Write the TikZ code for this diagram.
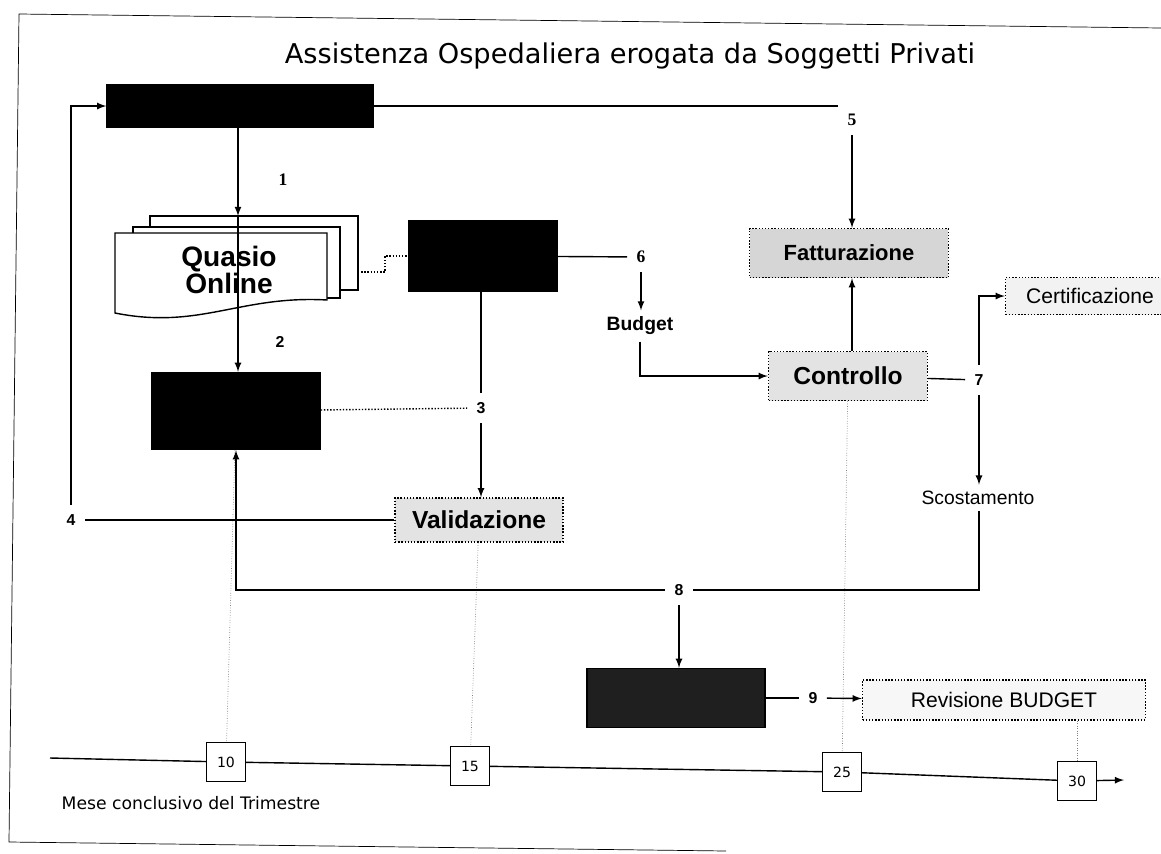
\documentclass[tikz,border=0pt]{standalone}
\usepackage{fontspec}
\setmainfont{Liberation Sans}
\newfontfamily\verdana{DejaVu Sans}
\newfontfamily\numserif{Liberation Serif}
\usepackage{xcolor}
\usepackage{tikz}
\usetikzlibrary{shapes,arrows,positioning,fit,calc}

\begin{document}
\begin{tikzpicture}[x=0.02cm, y=-0.02cm, >=latex, thick,
    blackbox/.style={rectangle, draw, fill=black},
    graybox/.style={rectangle, draw, densely dotted, fill=gray!22, font=\bfseries\fontsize{14}{16}\selectfont},
    lightbox/.style={rectangle, draw, densely dotted, fill=gray!10, font=\fontsize{12}{14}\selectfont},
    num/.style={font=\bfseries\fontsize{9}{10}\selectfont, inner sep=5pt},
    numserif/.style={font=\numserif\bfseries\fontsize{10}{11}\selectfont, inner sep=5pt},
    daybox/.style={rectangle, draw, thin, minimum size=0.78cm, font=\verdana\fontsize{8}{9}\selectfont},
    faint/.style={densely dotted, thin, gray}]
    \useasboundingbox (0,0) rectangle (1161,853);
    \draw [thin] (1161,28) -- (19,14) -- (9,842) -- (726,851);

    \node (title) at (630,56) {\verdana\fontsize{15.5}{18}\selectfont Assistenza Ospedaliera erogata da Soggetti Privati};

    % black boxes
    \node (boxA) [blackbox, minimum width=5.32cm, minimum height=0.84cm] at (240,106) {};
    \node (boxB) [blackbox, minimum width=2.96cm, minimum height=1.4cm] at (483,256) {};
    \node (boxC) [blackbox, minimum width=3.36cm, minimum height=1.54cm] at (236,411) {};
    \node (boxD) [blackbox, fill=black!88, minimum width=3.56cm, minimum height=1.18cm] at (676,698) {};

    % Quasio Online (document stack)
    \draw [fill=white] (150,216) -- (358,216) -- (358,290) -- (150,290) -- cycle;
    \draw [fill=white] (133,227) -- (340,227) -- (340,298) -- (133,298) -- cycle;
    \draw [fill=white] (115,233) -- (327,233) -- (327,300) .. controls (240,295) and (200,330) .. (115,313) -- cycle;
    \node (quasio) [align=center, font=\bfseries\fontsize{16}{15.5}\selectfont] at (229,270) {Quasio\\Online};
    \coordinate (qtop) at (238,216);
    \coordinate (qright) at (358,272);

    \node (fatt) [graybox, fill=gray!32, font=\bfseries\fontsize{12.5}{14}\selectfont, minimum width=3.98cm, minimum height=0.98cm] at (849,253) {Fatturazione};
    \node (contr) [graybox, minimum width=3.18cm, minimum height=0.98cm] at (848,376) {Controllo};
    \node (valid) [graybox, minimum width=3.36cm, minimum height=0.88cm] at (479,520) {Validazione};
    \node (cert) [lightbox, minimum width=3.38cm, minimum height=0.74cm] at (1090,296) {Certificazione};
    \node (rev) [lightbox, fill=gray!6, minimum width=5.66cm, minimum height=0.8cm] at (1004,700) {Revisione BUDGET};
    \node (budget) [font=\bfseries\fontsize{11}{12}\selectfont] at (640,326) {Budget};
    \node (scost) [font=\fontsize{11}{12}\selectfont] at (978,498) {Scostamento};

    % step numbers
    \node (n1) [numserif] at (283,180) {1};
    \node (n2) [num] at (280,342) {2};
    \node (n3) [num] at (481,408) {3};
    \node (n4) [num] at (71,520) {4};
    \node (n5) [numserif] at (852,120) {5};
    \node (n6) [numserif] at (641,257) {6};
    \node (n7) [num] at (979,380) {7};
    \node (n8) [num] at (679,590) {8};
    \node (n9) [num] at (813,698) {9};

    % timeline
    \coordinate (t0) at (50,758);
    \coordinate (t1) at (1124,780);
    \node (d10) [daybox] at (226,762) {10};
    \node (d15) [daybox] at (470,766) {15};
    \node (d25) [daybox] at (842,772) {25};
    \node (d30) [daybox] at (1077,781) {30};
    \node (mese) [font=\verdana\fontsize{9.8}{11}\selectfont] at (191,803) {Mese conclusivo del Trimestre};

    \draw [faint] (boxC) -- (d10);
    \draw [faint] (valid) -- (d15);
    \draw [faint] (contr) -- (d25);
    \draw [faint] (rev.south -| d30) -- (d30);

    \draw [->] (boxA.south -| qtop) -- (qtop);
    \draw [->] (qtop) -- (qtop |- boxC.north);
    \draw [densely dotted] (qright) -- ++(27,0) |- (boxB);
    \draw (boxA) -- (boxA -| n5.west);
    \draw [->] (n5) -- (n5 |- fatt.north);
    \draw (boxB) -- (n6);
    \draw [->] (n6) -- (n6 |- budget.north);
    \draw [->] (budget) |- (contr);
    \draw [->] (contr.north -| n5) -- (n5 |- fatt.south);
    \draw (contr) -- (n7);
    \draw [->] (n7) |- (cert);
    \draw [->] (n7) -- (n7 |- scost.north);
    \draw (scost.south -| n7) |- (n8);
    \draw [->] (n8) -| (boxC);
    \draw [->] (n8) -- (n8 |- boxD.north);
    \draw (boxD) -- (n9);
    \draw [->] (n9) -- (rev);
    \draw (boxB.south -| n3) -- (n3);
    \draw [densely dotted] (boxC) -- (n3);
    \draw [->] (n3) -- (n3 |- valid.north);
    \draw (valid) -- (n4);
    \draw [->] (n4) |- (boxA);

    \draw (t0) -- (d10);
    \draw (d10) -- (d15);
    \draw (d15) -- (d25);
    \draw (d25) -- (d30);
    \draw [->] (d30) -- (t1);
\end{tikzpicture}
\end{document}
